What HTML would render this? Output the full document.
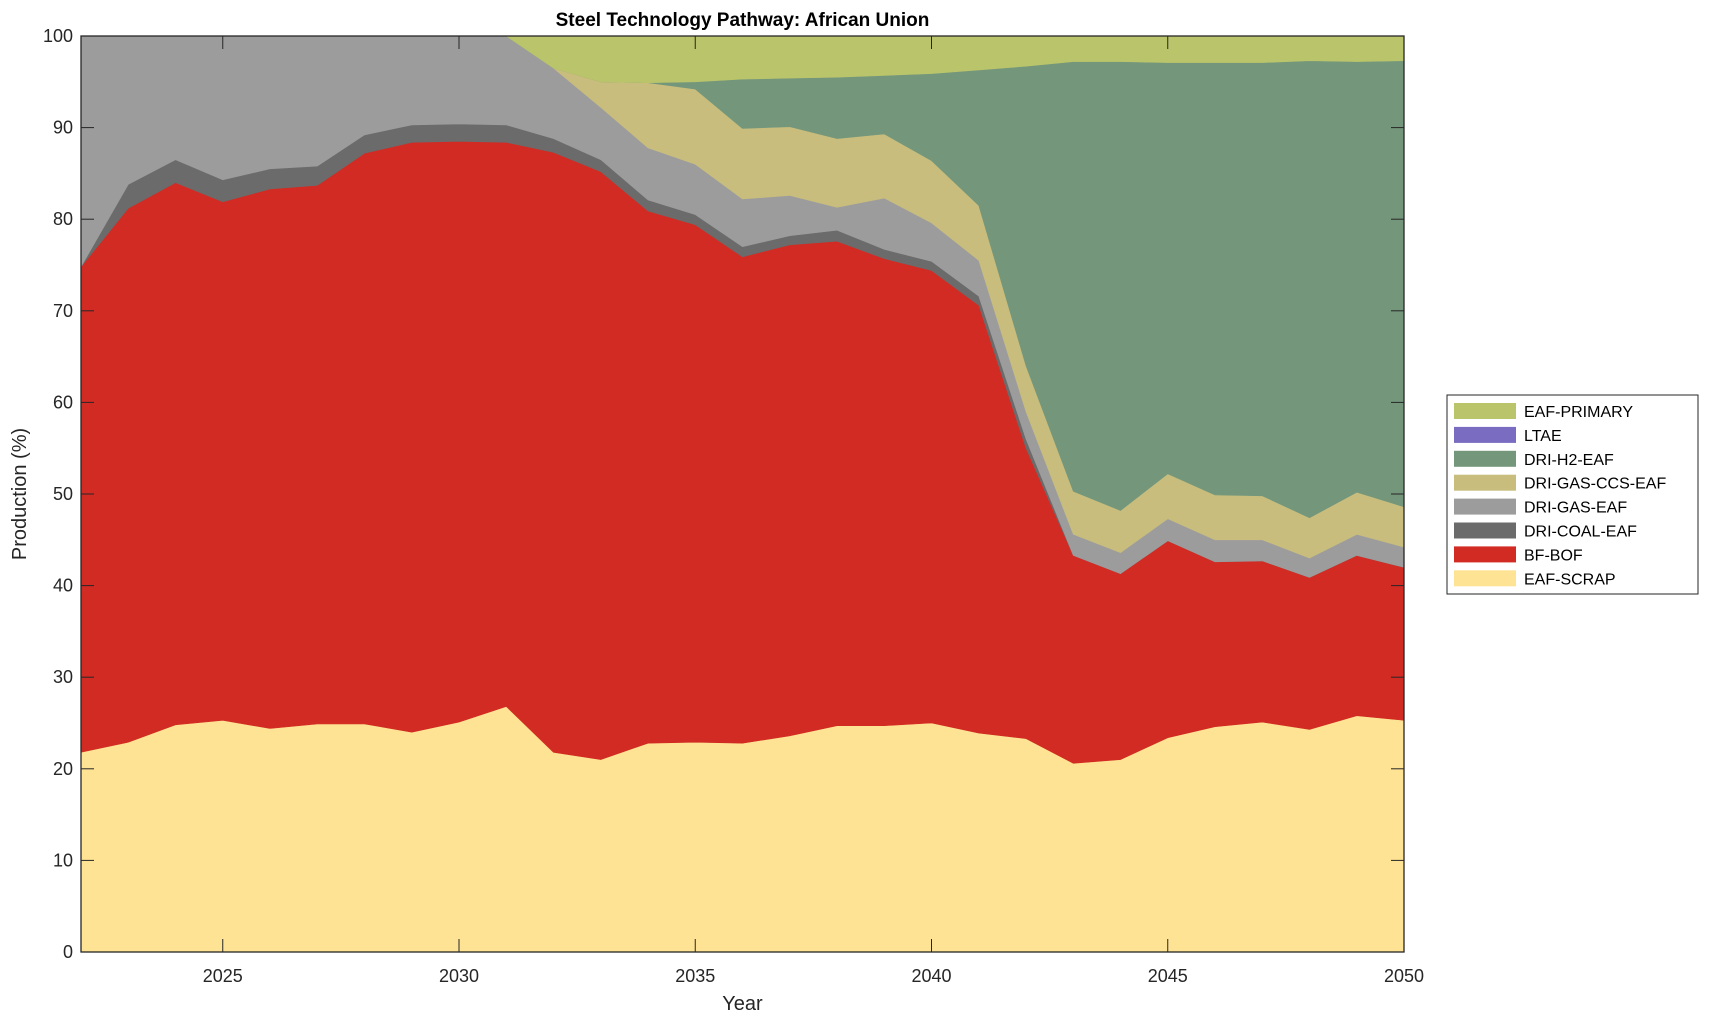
<!DOCTYPE html>
<html><head><meta charset="utf-8"><style>
body{margin:0;background:#fff;}
svg{display:block;font-family:"Liberation Sans",sans-serif;}
</style></head><body>
<svg id="s" width="1709" height="1021" xmlns="http://www.w3.org/2000/svg"></svg>
<script>
(function(){
var L=81,R=1404,T=36,B=952;
function X(y){return L+(y-2022)*(R-L)/28;}
function Y(v){return B-v*(B-T)/100;}
var scrap=[21.8,22.9,24.8,25.3,24.4,24.9,24.9,24.0,25.1,26.8,21.8,21.0,22.8,22.9,22.8,23.6,24.7,24.7,25.0,23.9,23.3,20.6,21.0,23.4,24.6,25.1,24.3,25.8,25.3];
var bf=[74.8,81.2,84.0,81.9,83.3,83.7,87.2,88.4,88.5,88.4,87.3,85.2,80.9,79.4,75.9,77.2,77.6,75.7,74.4,70.6,55,43.3,41.3,44.9,42.6,42.7,40.9,43.3,42.0];
var coal=[74.8,83.8,86.5,84.3,85.5,85.8,89.2,90.3,90.4,90.3,88.8,86.5,82.1,80.5,77.0,78.2,78.8,76.7,75.4,71.6,56,43.3,41.3,44.9,42.6,42.7,40.9,43.3,42.0];
var gas=[100,100,100,100,100,100,100,100,100,100,96.5,92.2,87.8,86.0,82.2,82.6,81.3,82.3,79.6,75.5,59,45.6,43.6,47.3,45.0,45.0,43.0,45.6,44.2];
var ccs=[100,100,100,100,100,100,100,100,100,100,96.5,95.0,94.9,94.2,89.9,90.1,88.8,89.3,86.4,81.5,64,50.3,48.2,52.2,49.9,49.8,47.4,50.2,48.6];
var h2=[100,100,100,100,100,100,100,100,100,100,96.5,95.0,94.9,95.0,95.3,95.4,95.5,95.7,95.9,96.3,96.7,97.2,97.2,97.1,97.1,97.1,97.3,97.2,97.3];
var full=h2.map(function(){return 100;}), zero=h2.map(function(){return 0;});
var layers=[[zero,scrap,'#fde393'],[scrap,bf,'#d22b23'],[bf,coal,'#6b6b6b'],[coal,gas,'#9c9c9c'],[gas,ccs,'#c8bd7d'],[ccs,h2,'#74977c'],[h2,full,'#bac46a']];
var h='';
layers.forEach(function(ly){
 var lo=ly[0],hi=ly[1],c=ly[2],p=[];
 hi.forEach(function(v,i){p.push(X(2022+i).toFixed(1)+','+Y(v).toFixed(1));});
 for(var i=lo.length-1;i>=0;i--)p.push(X(2022+i).toFixed(1)+','+Y(lo[i]).toFixed(1));
 h+='<polygon points="'+p.join(' ')+'" fill="'+c+'" stroke="'+c+'" stroke-width="0.6"/>';
});
h+='<rect x="'+L+'" y="'+T+'" width="'+(R-L)+'" height="'+(B-T)+'" fill="none" stroke="#262626" stroke-width="1.3"/>';
for(var yr=2025;yr<=2050;yr+=5){var x=X(yr);
 h+='<line x1="'+x+'" y1="'+B+'" x2="'+x+'" y2="'+(B-13)+'" stroke="#262626"/><line x1="'+x+'" y1="'+T+'" x2="'+x+'" y2="'+(T+13)+'" stroke="#262626"/>';
 h+='<text x="'+x+'" y="'+(B+30)+'" font-size="18" fill="#262626" text-anchor="middle">'+yr+'</text>';}
for(var v=0;v<=100;v+=10){var y=Y(v);
 h+='<line x1="'+L+'" y1="'+y+'" x2="'+(L+13)+'" y2="'+y+'" stroke="#262626"/><line x1="'+R+'" y1="'+y+'" x2="'+(R-13)+'" y2="'+y+'" stroke="#262626"/>';
 h+='<text x="'+(L-8)+'" y="'+(y+6)+'" font-size="18" fill="#262626" text-anchor="end">'+v+'</text>';}
h+='<text x="'+((L+R)/2)+'" y="26" font-size="19" font-weight="bold" text-anchor="middle" fill="#000">Steel Technology Pathway: African Union</text>';
h+='<text x="'+((L+R)/2)+'" y="1010" font-size="20" text-anchor="middle" fill="#262626">Year</text>';
h+='<text transform="translate(26,'+((T+B)/2)+') rotate(-90)" font-size="20" text-anchor="middle" fill="#262626">Production (%)</text>';
h+='<rect x="1447" y="395" width="251" height="199" fill="#fff" stroke="#262626" stroke-width="1"/>';
var leg=[['EAF-PRIMARY','#bac46a'],['LTAE','#7a6cc0'],['DRI-H2-EAF','#74977c'],['DRI-GAS-CCS-EAF','#c8bd7d'],['DRI-GAS-EAF','#9c9c9c'],['DRI-COAL-EAF','#6b6b6b'],['BF-BOF','#d22b23'],['EAF-SCRAP','#fde393']];
leg.forEach(function(e,i){var y=411+i*23.9;
 h+='<rect x="1454" y="'+(y-8)+'" width="62" height="16" fill="'+e[1]+'"/>';
 h+='<text x="1524" y="'+(y+6)+'" font-size="16" fill="#000">'+e[0]+'</text>';});
document.getElementById('s').innerHTML=h;
})();
</script>
</body></html>
